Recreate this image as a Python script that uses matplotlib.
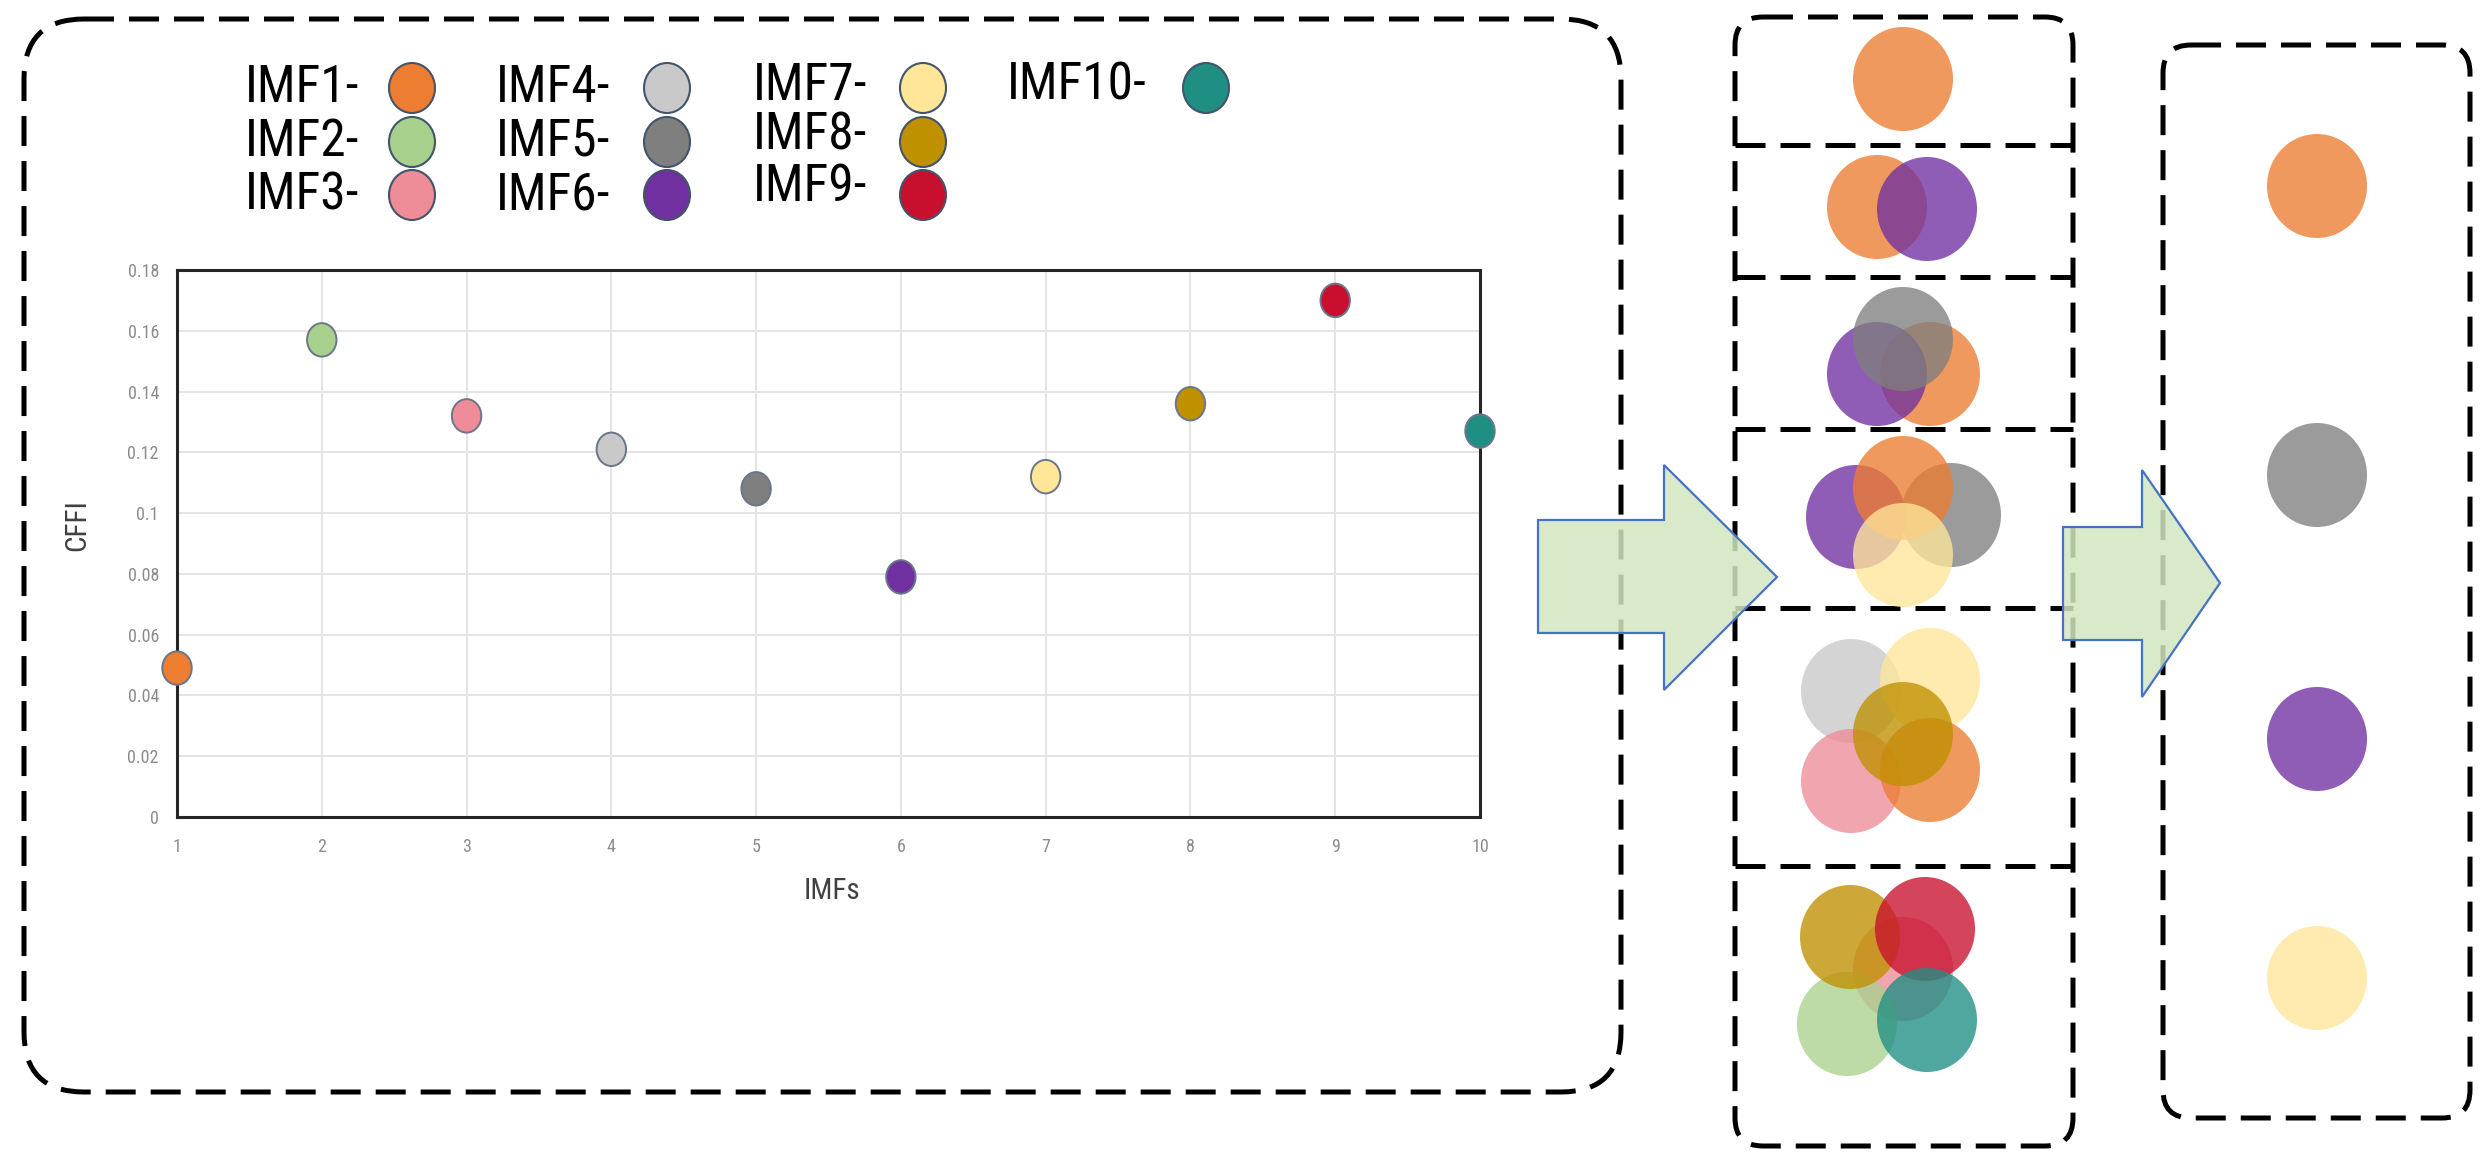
import numpy as np
import matplotlib.pyplot as plt
from matplotlib.patches import FancyBboxPatch, Ellipse, Polygon
from matplotlib.markers import MarkerStyle
from matplotlib.transforms import Affine2D
from matplotlib import font_manager

W, H = 2491, 1170

# data
imfs = list(range(1, 11))
cffi = [0.049, 0.157, 0.132, 0.121, 0.108, 0.079, 0.112, 0.136, 0.170, 0.127]
names = ['IMF%d-' % i for i in imfs]
colors = ['#ED7D31', '#A9D18E', '#EE8C98', '#C9C9C9', '#7F7F7F',
          '#7030A0', '#FFE699', '#BF9000', '#C8102E', '#1F8F84']
yticks = [0, 0.02, 0.04, 0.06, 0.08, 0.1, 0.12, 0.14, 0.16, 0.18]

# IMF groups in the middle column (top to bottom) and the final selection
groups = [[1], [1, 6], [1, 6, 5], [6, 5, 1, 7], [4, 7, 3, 1, 8], [3, 2, 8, 9, 10]]
selected = [1, 5, 6, 7]

installed = {f.name for f in font_manager.fontManager.ttflist}
narrow = [f for f in ['Liberation Sans Narrow', 'Roboto Condensed', 'Open Sans Condensed',
                      'DejaVu Sans Condensed'] if f in installed]
fam = (narrow[:1] or ['Liberation Sans']) + ['DejaVu Sans']
is_narrow = bool(narrow)
dash = (0, (6, 3))

fig = plt.figure(figsize=(W / 100, H / 100), dpi=100)
bg = fig.add_axes([0, 0, 1, 1])
bg.set_xlim(0, W)
bg.set_ylim(H, 0)
bg.axis('off')


def dbox(x, y, w, h, r):
    bg.add_patch(FancyBboxPatch((x, y), w, h, boxstyle='round,pad=0,rounding_size=%d' % r,
                                fill=False, ec='black', lw=3.6, ls=dash, zorder=1))


# dashed frames
dbox(24, 19, 1597, 1073, 60)
dbox(1735, 17, 338, 1129, 28)
dbox(2163, 45, 307, 1073, 28)
for yy in [145, 277, 429, 608, 866]:
    bg.plot([1735, 2073], [yy, yy], color='black', lw=3.6, ls=dash, zorder=1)


# block arrows
def arrow(x0, x1, x2, s0, s1, h0, h1, tip):
    pts = [(x0, s0), (x1, s0), (x1, h0), (x2, tip), (x1, h1), (x1, s1), (x0, s1)]
    bg.add_patch(Polygon(pts, closed=True, fc='#D2E7C0', ec='none', alpha=0.85, zorder=2))
    bg.add_patch(Polygon(pts, closed=True, fill=False, ec='#4472C4', lw=1.6, zorder=2))


arrow(1538, 1664, 1777, 520, 633, 465, 690, 577)
arrow(2063, 2142, 2220, 527, 640, 470, 697, 583)

# legend
leg_pos = [(245, 412, 88, 88), (245, 412, 142, 142), (245, 412, 195, 195),
           (496, 667, 88, 88), (496, 667, 142, 142), (496, 667, 195, 195),
           (753, 923, 86, 88), (753, 923, 136, 142), (753, 923, 187, 195),
           (1007, 1206, 86, 88)]
leg_fs = 37 if is_narrow else 32
for i, (tx, cx, ty, cy) in enumerate(leg_pos):
    bg.text(tx, ty, names[i], fontsize=leg_fs, family=fam, ha='left', va='center', color='black')
    bg.add_patch(Ellipse((cx, cy), 46, 50, fc=colors[i], ec='#44546A', lw=1.5, zorder=3))

# overlapping circles in the middle column
grp_pos = [
    [(1903, 79)],
    [(1877, 207), (1927, 209)],
    [(1930, 374), (1877, 374), (1903, 339)],
    [(1856, 517), (1951, 515), (1903, 488), (1903, 555)],
    [(1851, 691), (1930, 680), (1851, 781), (1930, 770), (1903, 734)],
    [(1903, 969), (1847, 1024), (1850, 937), (1925, 929), (1927, 1020)],
]
for g, pos in zip(groups, grp_pos):
    for k, (x, y) in zip(g, pos):
        bg.add_patch(Ellipse((x, y), 100, 104, fc=colors[k - 1], ec='none', alpha=0.78, zorder=3))

sel_y = [186, 475, 739, 978]
for k, y in zip(selected, sel_y):
    bg.add_patch(Ellipse((2317, y), 100, 104, fc=colors[k - 1], ec='none', alpha=0.78, zorder=3))

# scatter chart
x0, x1, ytop, ybot = 177, 1480, 270, 817
ax = fig.add_axes([x0 / W, (H - ybot) / H, (x1 - x0) / W, (ybot - ytop) / H])
ax.set_zorder(2)
ax.set_xlim(1, 10)
ax.set_ylim(0, 0.18)
ax.grid(True, color='#E4E4E4', lw=1.4)
ax.set_axisbelow(True)
mk = MarkerStyle('o', transform=Affine2D().scale(0.88, 1.0))
ax.scatter(imfs, cffi, s=580, c=colors, marker=mk, edgecolors='#6A768A', linewidths=1.4,
           clip_on=False, zorder=5)
ax.set_xticks(imfs)
ax.set_yticks(yticks)
ax.set_yticklabels(['%g' % v for v in yticks])
ax.tick_params(length=0, labelsize=13, labelcolor='#8C8C8C')
ax.tick_params(axis='y', pad=13)
ax.tick_params(axis='x', pad=15)
for lab in ax.get_xticklabels() + ax.get_yticklabels():
    lab.set_family(fam)
for s in ax.spines.values():
    s.set_color('#262626')
    s.set_linewidth(2.2)
ax.set_ylabel('CFFI', fontsize=21, family=fam, color='#404040')
ax.set_xlabel('IMFs', fontsize=21, family=fam, color='#404040')
ax.yaxis.set_label_coords(-0.066, 0.534)
ax.xaxis.set_label_coords(0.503, -0.11)

fig.savefig('out.png', dpi=100)
